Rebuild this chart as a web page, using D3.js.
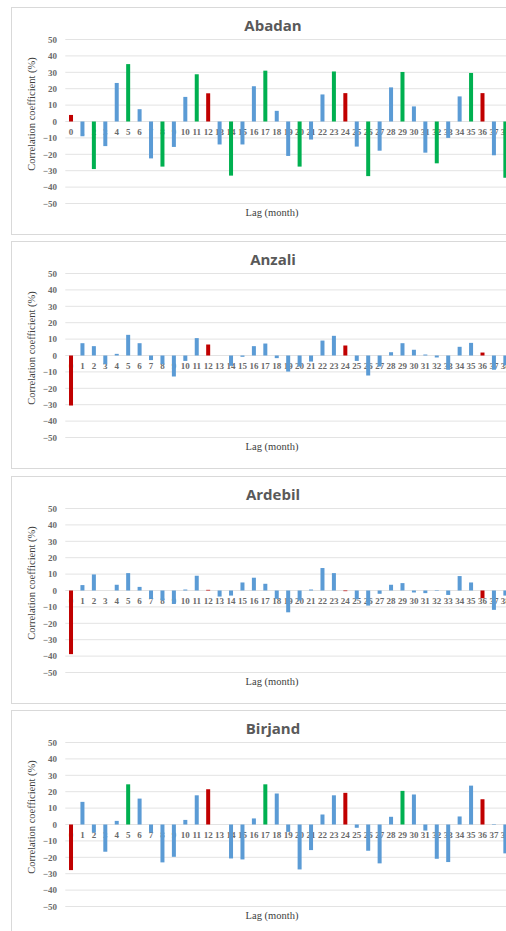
<!DOCTYPE html>
<html>
<head>
<meta charset="utf-8">
<script src="https://cdn.jsdelivr.net/npm/d3@7/dist/d3.min.js"></script>
<style>
  html, body { margin: 0; padding: 0; background: #ffffff; }
  svg { display: block; }
</style>
</head>
<body>
<svg id="chart" width="506" height="931"></svg>
<script>
// ---------- DATA ----------
const lags = d3.range(0, 39);
const yTicks = [50, 40, 30, 20, 10, 0, -10, -20, -30, -40, -50];
const stations = ["Abadan", "Anzali", "Ardebil", "Birjand"];

const abadanValues = [4, -9, -29, -15, 23.5, 35, 7.5, -22.5, -27.5, -15.5, 15, 28.8, 17.2, -14, -33, -14, 21.5,
  31, 6.5, -21, -27.5, -11, 16.5, 30.5, 17.3, -15.3, -33.3, -17.8, 20.8, 30.2, 9.2, -19, -25.5, -10, 15.3, 29.6, 17.3, -20.6, -34.3];
const anzaliValues = [-30.5, 7.5, 5.7, -5.3, 1, 12.6, 7.5, -2.8, -5.3, -12.8, -3.3, 10.6, 6.7, 0, -6.3, -0.8, 5.7,
  7.3, -1.6, -9.8, -6.7, -3.7, 9.1, 12, 6.1, -3.3, -12.2, -6.7, 2, 7.5, 3.5, 0.6, -1.2, -8.7, 5.3, 7.7, 1.8, -8.7, -6];
const ardebilValues = [-38.8, 3.3, 9.8, 0, 3.5, 10.6, 2.2, -5.1, -6.1, -8.2, 0.6, 9, 0.4, -3.7, -3.1, 4.9, 7.8,
  4.1, -5.1, -13.3, -6.1, 0.6, 13.7, 10.6, -0.4, -5.3, -9.2, -2, 3.5, 4.5, -1.2, -1.6, 0.3, -2.7, 8.8, 4.9, -4.7, -11.8, -3.1];
const birjandValues = [-27.8, 13.8, -4.9, -16.6, 2.2, 24.5, 15.8, -4.9, -23.1, -19.7, 2.8, 17.8, 21.5, 0, -20.7, -21.3, 3.7,
  24.5, 18.9, -4.5, -27.4, -15.6, 6.1, 17.8, 19.3, -2, -16, -23.7, 4.7, 20.5, 18.3, -3.7, -20.9, -22.9, 4.9, 23.7, 15.4, -0.3, -17.6];

// bar class per lag: "annual" = 12-month multiples, "sig" = highlighted lags, "other" = rest
const annualLags = [0, 12, 24, 36];
const abadanSigLags = [2, 5, 8, 11, 14, 17, 20, 23, 26, 29, 32, 35, 38];
const anzaliSigLags = [];
const ardebilSigLags = [];
const birjandSigLags = [5, 17, 29];

const seriesValues = [abadanValues, anzaliValues, ardebilValues, birjandValues];
const seriesSig = [abadanSigLags, anzaliSigLags, ardebilSigLags, birjandSigLags];

const yTitle = "Correlation coefficient (%)";
const xTitle = "Lag (month)";

// ---------- STYLE / LAYOUT ----------
const colors = { annual: "#c00000", sig: "#00b050", other: "#5b9bd5" };
const panelLeft = 11, panelRight = 540, panelH = 227;
const panelTops = [7, 241, 476, 710];
const plotLeft = 65.3, step = 11.43;
const serif = "'Liberation Serif', 'Times New Roman', serif";

const svg = d3.select("#chart");

stations.forEach((name, si) => {
  const top = panelTops[si];
  const vals = seriesValues[si];
  const sig = seriesSig[si];
  const g = svg.append("g");

  g.append("rect")
    .attr("x", panelLeft + 0.5).attr("y", top + 0.5)
    .attr("width", panelRight - panelLeft).attr("height", panelH)
    .attr("fill", "#ffffff").attr("stroke", "#d9d9d9").attr("stroke-width", 1);

  const x = d3.scaleBand()
    .domain(lags)
    .range([plotLeft, plotLeft + step * lags.length])
    .paddingInner(0.65).paddingOuter(0.325);
  const y = d3.scaleLinear().domain([-50, 50]).range([top + 196.5, top + 32.5]);

  // gridlines
  g.append("g").selectAll("line").data(yTicks).join("line")
    .attr("x1", plotLeft).attr("x2", panelRight)
    .attr("y1", d => y(d)).attr("y2", d => y(d))
    .attr("stroke", "#e3e3e3").attr("stroke-width", 1);

  // y axis tick labels
  const yAxis = d3.axisLeft(y).tickValues(yTicks).tickSize(0).tickPadding(0);
  const ya = g.append("g").attr("transform", `translate(57,0)`).call(yAxis);
  ya.select(".domain").remove();
  ya.selectAll("text")
    .attr("font-family", serif).attr("font-size", 9).attr("font-weight", "bold")
    .attr("fill", "#6b6b6b");

  // x axis tick labels (at zero line)
  const xAxis = d3.axisBottom(x).tickSize(0).tickPadding(0);
  const xa = g.append("g").attr("transform", `translate(0,${y(0)})`).call(xAxis);
  xa.select(".domain").remove();
  xa.selectAll("text")
    .attr("dy", null).attr("y", 13)
    .attr("font-family", serif).attr("font-size", 9).attr("font-weight", "bold")
    .attr("fill", "#6b6b6b");

  // bars
  const data = lags.map((lag, i) => ({
    lag, v: vals[i],
    cls: annualLags.includes(lag) ? "annual" : (sig.includes(lag) ? "sig" : "other")
  }));
  g.append("g").selectAll("rect").data(data).join("rect")
    .attr("x", d => x(d.lag))
    .attr("width", x.bandwidth())
    .attr("y", d => y(Math.max(0, d.v)))
    .attr("height", d => Math.abs(y(d.v) - y(0)))
    .attr("fill", d => colors[d.cls]);

  // title
  g.append("text")
    .attr("x", 273).attr("y", top + 24)
    .attr("text-anchor", "middle")
    .attr("font-family", "'Open Sans', 'Noto Sans', sans-serif")
    .attr("font-size", 15).attr("font-weight", "bold")
    .attr("fill", "#595959")
    .text(name);

  // y title
  g.append("text")
    .attr("transform", `translate(35,${top + 107}) rotate(-90)`)
    .attr("text-anchor", "middle")
    .attr("font-family", serif).attr("font-size", 10.5)
    .attr("fill", "#404040")
    .text(yTitle);

  // x title
  g.append("text")
    .attr("x", 272).attr("y", top + 209)
    .attr("text-anchor", "middle")
    .attr("font-family", serif).attr("font-size", 10.5)
    .attr("fill", "#404040")
    .text(xTitle);
});
</script>
</body>
</html>
